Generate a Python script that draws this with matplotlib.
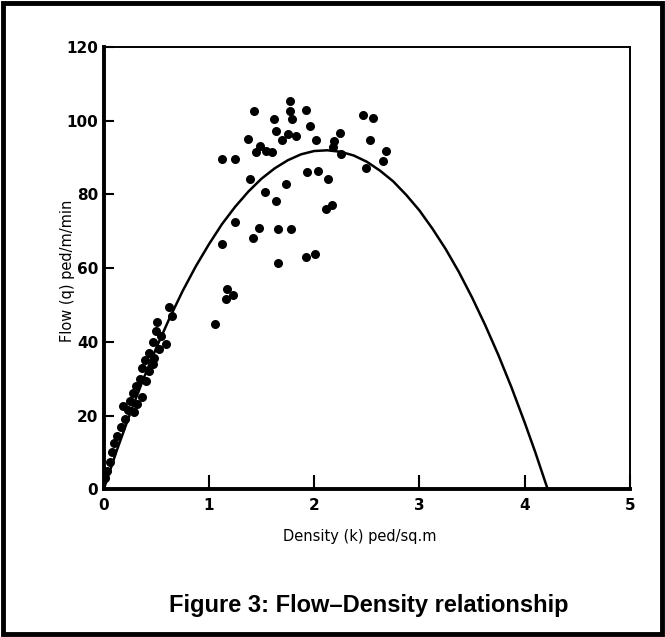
import matplotlib
matplotlib.use("Agg")
import matplotlib.pyplot as plt
from matplotlib.patches import Rectangle

# observed points, low density (free flow branch)
k_low = [0.01, 0.03, 0.06, 0.08, 0.10, 0.13, 0.16, 0.20, 0.18, 0.23, 0.25, 0.29,
         0.28, 0.32, 0.31, 0.34, 0.36, 0.36, 0.40, 0.39, 0.43, 0.43, 0.47, 0.48,
         0.47, 0.50, 0.51, 0.53, 0.54, 0.59, 0.62, 0.65]
q_low = [3, 5, 7.5, 10, 12.5, 14.5, 17, 19, 22.5, 21.5, 24, 21,
         26, 23, 28, 30, 25, 33, 29.5, 35, 37, 32, 34, 35.5,
         40, 43, 45.5, 38, 41.5, 39.5, 49.5, 47]

# observed points, around capacity
k_mid = [1.06, 1.12, 1.25, 1.39, 1.25, 1.12, 1.17, 1.16, 1.23, 1.42, 1.48, 1.53,
         1.64, 1.66, 1.78, 1.66, 1.37, 1.43, 1.45, 1.49, 1.54, 1.60, 1.62, 1.64,
         1.69, 1.73, 1.75, 1.83, 1.77, 1.77, 1.79, 1.92, 1.96, 2.02, 2.25, 2.19,
         2.18, 2.26, 2.46, 2.56, 2.53, 2.68, 2.65, 2.49, 1.93, 2.04, 2.13, 2.11,
         2.17, 1.92, 2.01]
q_mid = [44.8, 89.6, 89.6, 84.2, 72.6, 66.6, 54.3, 51.5, 52.7, 68.1, 70.8, 80.8,
         78.3, 70.5, 70.6, 61.3, 95.1, 102.7, 91.5, 93.2, 91.7, 91.5, 100.5, 97.3,
         94.8, 82.8, 96.4, 96.0, 105.4, 102.7, 100.5, 103.0, 98.5, 94.8, 96.8, 94.4,
         93.0, 91.0, 101.6, 100.7, 94.8, 91.7, 89.1, 87.1, 86.2, 86.5, 84.2, 76.1,
         77.2, 62.9, 63.8]

# fitted curve
k_fit = [0, 0.125, 0.25, 0.375, 0.5, 0.625, 0.75, 0.875, 1.0, 1.125, 1.25, 1.375,
         1.5, 1.625, 1.75, 1.875, 2.0, 2.125, 2.25, 2.375, 2.5, 2.625, 2.75, 2.875,
         3.0, 3.125, 3.25, 3.375, 3.5, 3.625, 3.75, 3.875, 4.0, 4.1, 4.22]
q_fit = [0, 10.6, 20.5, 29.8, 38.4, 46.4, 53.8, 60.5, 66.5, 72.0, 76.7, 80.8,
         84.3, 87.1, 89.3, 90.9, 91.8, 92.0, 91.6, 90.6, 88.9, 86.5, 83.6, 79.9,
         75.7, 70.7, 65.2, 59.0, 52.1, 44.6, 36.5, 27.7, 18.2, 10.2, 0]

x_ticks = [0, 1, 2, 3, 4, 5]
y_ticks = [0, 20, 40, 60, 80, 100, 120]

fig = plt.figure(figsize=(6.65, 6.37), dpi=100)
ax = fig.add_axes([0.156, 0.232, 0.791, 0.694])

ax.plot(k_fit, q_fit, color='black', lw=1.8, solid_joinstyle='round')
ax.scatter(k_low + k_mid, q_low + q_mid, s=30, color='black', zorder=3)

ax.set_xlim(0, 5)
ax.set_ylim(0, 120)
ax.set_xticks(x_ticks)
ax.set_yticks(y_ticks)
ax.tick_params(axis='x', direction='in', length=10, width=1.5, labelsize=11, pad=6)
ax.tick_params(axis='y', direction='in', length=7, width=1.5, labelsize=11, pad=4)
for lab in ax.get_xticklabels() + ax.get_yticklabels():
    lab.set_fontweight('bold')

ax.spines['left'].set_linewidth(2.8)
ax.spines['bottom'].set_linewidth(2.8)
ax.spines['top'].set_linewidth(1.4)
ax.spines['right'].set_linewidth(1.4)

fig.text(0.541, 0.157, 'Density (k) ped/sq.m', ha='center', va='center', fontsize=10.5)
fig.text(0.102, 0.575, 'Flow (q) ped/m/min', ha='center', va='center',
         rotation=90, fontsize=10.5)
fig.text(0.555, 0.05, 'Figure 3: Flow\u2013Density relationship', ha='center', va='center',
         fontsize=17, fontweight='bold', family='Liberation Sans')

# outer frame
fig.patches.append(Rectangle((0.005, 0.005), 0.99, 0.99, transform=fig.transFigure,
                             fill=False, edgecolor='black', lw=3.5))

fig.savefig('out.png', dpi=100)
